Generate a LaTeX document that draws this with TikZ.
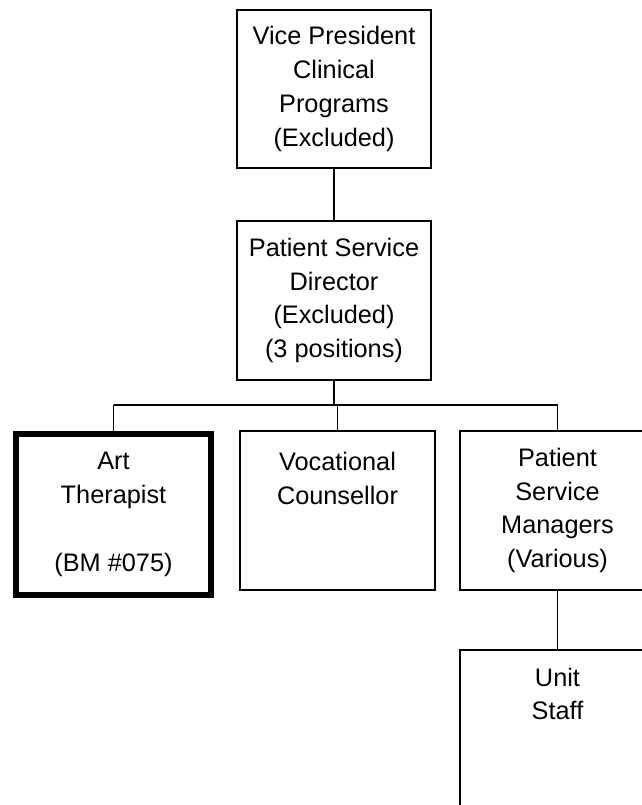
\documentclass[tikz,border=0pt]{standalone}
\usepackage{fontspec}
\setmainfont{Liberation Sans}

\begin{document}
\begin{tikzpicture}[x=0.025cm, y=-0.025cm]
%style for job box
\tikzstyle{job} = [rectangle, draw=black, line width=0.9pt, inner sep=0pt, outer sep=0pt, align=center, font=\fontsize{18}{24}\selectfont, minimum width=4.875cm, minimum height=3.975cm]

%style for highlighted job box
\tikzstyle{focus} = [job, line width=4.3pt, minimum height=4.025cm]

%style for text placed at the top of a box
\tikzstyle{toptext} = [inner sep=0pt, align=center, font=\fontsize{18}{24}\selectfont, anchor=north]

%style for connector
\tikzstyle{link} = [draw=black, line width=0.9pt]

\useasboundingbox (0,0) rectangle (642,805);
\clip (0,0) rectangle (642,805);

%place nodes
\node[job, minimum width=4.85cm, minimum height=3.95cm] (vp) at (334,89) {Vice President\\Clinical\\Programs\\(Excluded)};

\node[job, minimum width=4.85cm] (director) at (334,300.5) {Patient Service\\Director\\(Excluded)\\(3 positions)};

\coordinate (bus) at (334,405);

\node[focus] (art) at (113.5,514.5) {Art\\Therapist\\\strut\\(BM \#075)};

\node[job] (vocational) at (337.5,510.5) {};
\node[toptext] (vocText) at ([yshift=-0.53cm]vocational.north) {Vocational\\Counsellor};

\node[job] (managers) at (557.5,510.5) {Patient\\Service\\Managers\\(Various)};

\node[job, minimum height=4cm] (unit) at (557.5,730) {};
\node[toptext] (unitText) at ([yshift=-0.44cm]unit.north) {Unit\\Staff};

\draw[link] (vp) -- (director);

\draw[link] (director) -- (bus);
\draw[link] (art.north |- bus) -- (managers.north |- bus);
\draw[link] (art.north |- bus) -- (art.north);
\draw[link] (vocational.north |- bus) -- (vocational.north);
\draw[link] (managers.north |- bus) -- (managers.north);

\draw[link] (managers) -- (unit);
\end{tikzpicture}
\end{document}
